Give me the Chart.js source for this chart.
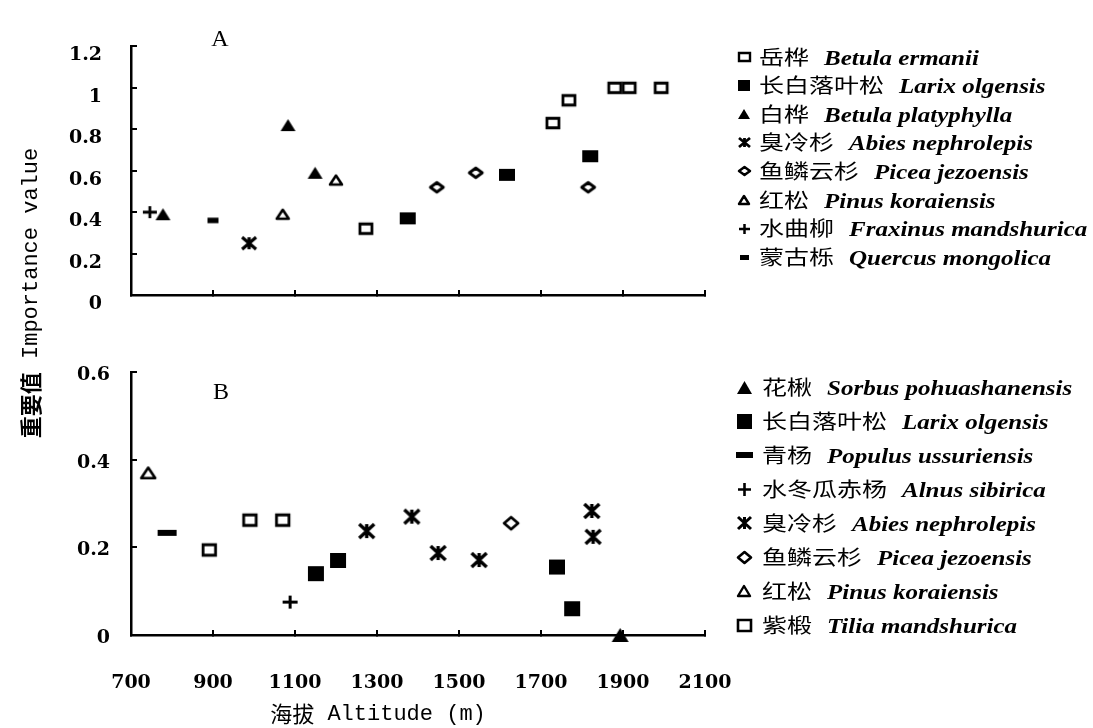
<!DOCTYPE html>
<html><head><meta charset="utf-8">
<script src="https://cdn.jsdelivr.net/npm/chart.js@4.4.0/dist/chart.umd.min.js"></script>
<style>
html,body{margin:0;padding:0;background:#fff;width:1093px;height:728px;overflow:hidden;}
#wrap{position:relative;width:1093px;height:728px;background:#fff;}
canvas.c{position:absolute;left:0;top:0;}
.row{position:absolute;white-space:nowrap;display:flex;align-items:center;height:30px;z-index:5;}
.ico{width:20px;height:30px;display:flex;align-items:center;justify-content:center;}
.txt{display:inline-block;transform-origin:left center;transform:scaleX(1.25);font-size:20px;line-height:1;color:#000;}
.cjk{font-family:"Noto Sans CJK SC";}
.lat{font-family:"Liberation Serif";font-style:italic;font-weight:bold;margin-left:12px;}
</style></head>
<body><div id="wrap">
<canvas id="chartA" class="c" width="800" height="728"></canvas>
<canvas id="chartB" class="c" width="800" height="728"></canvas>
</div>
<script>
// ---------- Axis ranges / tick steps ----------
const altitudeRange = [700, 2100];
const altitudeStep = 200;
const ivRangeA = [0, 1.2];
const ivRangeB = [0, 0.6];
const ivStep = 0.2;

// ---------- Panel A data (altitude m, importance value) ----------
const A_namesCn  = ['岳桦','长白落叶松','白桦','臭冷杉','鱼鳞云杉','红松','水曲柳','蒙古栎'];
const A_namesLat = ['Betula ermanii','Larix olgensis','Betula platyphylla','Abies nephrolepis','Picea jezoensis','Pinus koraiensis','Fraxinus mandshurica','Quercus mongolica'];
const A_betErm_alt = [1273, 1729, 1768, 1880, 1915, 1993];
const A_betErm_iv  = [0.32, 0.83, 0.94, 1.00, 1.00, 1.00];
const A_larOlg_alt = [1375, 1617, 1820];
const A_larOlg_iv  = [0.37, 0.58, 0.67];
const A_betPla_alt = [778, 1083, 1149];
const A_betPla_iv  = [0.39, 0.82, 0.59];
const A_abiNep_alt = [988];
const A_abiNep_iv  = [0.25];
const A_picJez_alt = [1446, 1541, 1815];
const A_picJez_iv  = [0.52, 0.59, 0.52];
const A_pinKor_alt = [1070, 1200];
const A_pinKor_iv  = [0.39, 0.555];
const A_fraMan_alt = [746];
const A_fraMan_iv  = [0.40];
const A_queMon_alt = [900];
const A_queMon_iv  = [0.36];

// ---------- Panel B data ----------
const B_namesCn  = ['花楸','长白落叶松','青杨','水冬瓜赤杨','臭冷杉','鱼鳞云杉','红松','紫椴'];
const B_namesLat = ['Sorbus pohuashanensis','Larix olgensis','Populus ussuriensis','Alnus sibirica','Abies nephrolepis','Picea jezoensis','Pinus koraiensis','Tilia mandshurica'];
const B_sorPoh_alt = [1893];
const B_sorPoh_iv  = [0.0];
const B_larOlg_alt = [1151, 1205, 1739, 1776];
const B_larOlg_iv  = [0.14, 0.17, 0.155, 0.06];
const B_popUss_alt = [788];
const B_popUss_iv  = [0.233];
const B_alnSib_alt = [1088];
const B_alnSib_iv  = [0.075];
const B_abiNep_alt = [1275, 1385, 1449, 1549, 1824, 1827];
const B_abiNep_iv  = [0.237, 0.27, 0.187, 0.171, 0.283, 0.224];
const B_picJez_alt = [1627];
const B_picJez_iv  = [0.255];
const B_pinKor_alt = [742];
const B_pinKor_iv  = [0.37];
const B_tilMan_alt = [891, 990, 1070];
const B_tilMan_iv  = [0.194, 0.262, 0.262];

// ---------- marker images ----------
function marker(kind, w, h, lw) {
  const pad = Math.ceil(lw) + 2;
  const c = document.createElement('canvas');
  c.width = Math.round(w + 2 * pad); c.height = Math.round(h + 2 * pad);
  const g = c.getContext('2d');
  const cx = c.width / 2, cy = c.height / 2, hw = w / 2, hh = h / 2;
  g.lineWidth = lw; g.strokeStyle = '#000'; g.fillStyle = '#000';
  g.lineJoin = 'round'; g.lineCap = 'butt';
  g.beginPath();
  switch (kind) {
    case 'sqOpen':
      g.rect(cx - hw, cy - hh, w, h); g.fillStyle = '#fff'; g.fill(); g.lineJoin = 'miter'; g.stroke(); break;
    case 'sqFill':
      g.rect(cx - hw, cy - hh, w, h); g.fill(); break;
    case 'triFill':
      g.moveTo(cx, cy - hh); g.lineTo(cx + hw, cy + hh); g.lineTo(cx - hw, cy + hh); g.closePath(); g.fill(); break;
    case 'triOpen':
      g.moveTo(cx, cy - hh); g.lineTo(cx + hw, cy + hh); g.lineTo(cx - hw, cy + hh); g.closePath();
      g.fillStyle = '#fff'; g.fill(); g.stroke(); break;
    case 'dia':
      g.moveTo(cx - hw, cy); g.lineTo(cx, cy - hh); g.lineTo(cx + hw, cy); g.lineTo(cx, cy + hh); g.closePath();
      g.fillStyle = '#fff'; g.fill(); g.stroke(); break;
    case 'plus':
      g.moveTo(cx - hw, cy); g.lineTo(cx + hw, cy); g.moveTo(cx, cy - hh); g.lineTo(cx, cy + hh); g.stroke(); break;
    case 'ast':
      g.moveTo(cx - hw, cy - hh); g.lineTo(cx + hw, cy + hh);
      g.moveTo(cx + hw, cy - hh); g.lineTo(cx - hw, cy + hh);
      g.moveTo(cx, cy - hh); g.lineTo(cx, cy + hh); g.stroke(); break;
    case 'dash':
      g.rect(cx - hw, cy - hh, w, h); g.fill(); break;
  }
  return c;
}

// point markers for the plots
const mA = {
  betErm: marker('sqOpen', 12, 9.5, 2.8),
  larOlg: marker('sqFill', 16, 12, 1),
  betPla: marker('triFill', 15, 12, 1),
  abiNep: marker('ast', 14, 12, 3.2),
  picJez: marker('dia', 13, 9.5, 2.8),
  pinKor: marker('triOpen', 12, 9, 2.6),
  fraMan: marker('plus', 14, 12, 2.8),
  queMon: marker('dash', 11, 5.5, 1)
};
const mB = {
  sorPoh: marker('triFill', 17, 14, 1),
  larOlg: marker('sqFill', 16, 15, 1),
  popUss: marker('dash', 19, 6, 1),
  alnSib: marker('plus', 15, 13, 3),
  abiNep: marker('ast', 15, 14, 3.4),
  picJez: marker('dia', 14, 12, 2.8),
  pinKor: marker('triOpen', 14, 10.5, 2.6),
  tilMan: marker('sqOpen', 12.5, 10.5, 2.8)
};
// legend icons
const legA = [marker('sqOpen',11,8,2.4), marker('sqFill',12,11,1), marker('triFill',12,10,1), marker('ast',11,9,2.8),
              marker('dia',11,8,2.5), marker('triOpen',10,8,2.4), marker('plus',11,10,2.5), marker('dash',9,5,1)];
const legB = [marker('triFill',15,13,1), marker('sqFill',15,15,1), marker('dash',17,6,1), marker('plus',13,13,2.6),
              marker('ast',13,12,3), marker('dia',13,11,2.6), marker('triOpen',12,10,2.4), marker('sqOpen',13,11,2.6)];

function pts(xs, ys) { return xs.map((x, i) => ({x: x, y: ys[i]})); }
function ds(label, xs, ys, style) {
  return {label: label, data: pts(xs, ys), pointStyle: style, pointRadius: 8, pointHoverRadius: 8,
          showLine: false, clip: false, borderColor: '#000', backgroundColor: '#000'};
}

// text plugin (panel letters, axis titles)
const figText = {
  id: 'figText',
  afterDraw(chart, args, opts) {
    const ctx = chart.ctx;
    (opts.items || []).forEach(it => {
      ctx.save();
      ctx.translate(it.x, it.y);
      if (it.rot) ctx.rotate(it.rot);
      let total = 0;
      it.parts.forEach(p => { ctx.font = p.font; p.w = ctx.measureText(p.text).width; total += p.w; });
      let x0 = -total / 2;
      ctx.fillStyle = '#000'; ctx.textBaseline = 'middle'; ctx.textAlign = 'left';
      it.parts.forEach(p => { ctx.font = p.font; ctx.fillText(p.text, x0, 0); x0 += p.w; });
      ctx.restore();
    });
  }
};

const tickFont = {family: 'DejaVu Serif', weight: 'bold', size: 19};
const fmtX = v => String(Math.round(v));
const fmtY = v => String(parseFloat(v.toFixed(1)));

function scales(yRange, yLabelOffset, yPad, showX, xHeight) {
  return {
    x: {
      type: 'linear', min: altitudeRange[0], max: altitudeRange[1],
      ticks: {stepSize: altitudeStep, display: showX, font: tickFont, color: '#000', padding: 42, maxRotation: 0, autoSkip: false, callback: fmtX},
      grid: {drawOnChartArea: false, drawTicks: true, tickLength: -5, color: '#000', lineWidth: 2},
      border: {display: true, color: '#000', width: 2.5},
      afterFit: s => { s.height = xHeight; }
    },
    y: {
      type: 'linear', min: yRange[0], max: yRange[1],
      ticks: {stepSize: ivStep, font: tickFont, color: '#000', padding: yPad, labelOffset: yLabelOffset, callback: fmtY},
      grid: {drawOnChartArea: false, drawTicks: true, tickLength: -6, color: '#000', lineWidth: 2},
      border: {display: true, color: '#000', width: 2.5},
      afterFit: s => { s.width = 131; }
    }
  };
}

const commonPlugins = {legend: {display: false}, tooltip: {enabled: false}};

new Chart(document.getElementById('chartA'), {
  type: 'scatter',
  data: {datasets: [
    ds(A_namesCn[0] + ' ' + A_namesLat[0], A_betErm_alt, A_betErm_iv, mA.betErm),
    ds(A_namesCn[1] + ' ' + A_namesLat[1], A_larOlg_alt, A_larOlg_iv, mA.larOlg),
    ds(A_namesCn[2] + ' ' + A_namesLat[2], A_betPla_alt, A_betPla_iv, mA.betPla),
    ds(A_namesCn[3] + ' ' + A_namesLat[3], A_abiNep_alt, A_abiNep_iv, mA.abiNep),
    ds(A_namesCn[4] + ' ' + A_namesLat[4], A_picJez_alt, A_picJez_iv, mA.picJez),
    ds(A_namesCn[5] + ' ' + A_namesLat[5], A_pinKor_alt, A_pinKor_iv, mA.pinKor),
    ds(A_namesCn[6] + ' ' + A_namesLat[6], A_fraMan_alt, A_fraMan_iv, mA.fraMan),
    ds(A_namesCn[7] + ' ' + A_namesLat[7], A_queMon_alt, A_queMon_iv, mA.queMon)
  ]},
  options: {
    responsive: false, animation: false, devicePixelRatio: 1,
    layout: {padding: {top: 16, right: 95, left: 0, bottom: 0}},
    scales: scales(ivRangeA, 9, 35, false, 728 - 295),
    plugins: Object.assign({}, commonPlugins, {figText: {items: [
      {x: 220, y: 40, parts: [{text: 'A', font: '24px "Liberation Serif"'}]}
    ]}})
  },
  plugins: [figText]
});

new Chart(document.getElementById('chartB'), {
  type: 'scatter',
  data: {datasets: [
    ds(B_namesCn[0] + ' ' + B_namesLat[0], B_sorPoh_alt, B_sorPoh_iv, mB.sorPoh),
    ds(B_namesCn[1] + ' ' + B_namesLat[1], B_larOlg_alt, B_larOlg_iv, mB.larOlg),
    ds(B_namesCn[2] + ' ' + B_namesLat[2], B_popUss_alt, B_popUss_iv, mB.popUss),
    ds(B_namesCn[3] + ' ' + B_namesLat[3], B_alnSib_alt, B_alnSib_iv, mB.alnSib),
    ds(B_namesCn[4] + ' ' + B_namesLat[4], B_abiNep_alt, B_abiNep_iv, mB.abiNep),
    ds(B_namesCn[5] + ' ' + B_namesLat[5], B_picJez_alt, B_picJez_iv, mB.picJez),
    ds(B_namesCn[6] + ' ' + B_namesLat[6], B_pinKor_alt, B_pinKor_iv, mB.pinKor),
    ds(B_namesCn[7] + ' ' + B_namesLat[7], B_tilMan_alt, B_tilMan_iv, mB.tilMan)
  ]},
  options: {
    responsive: false, animation: false, devicePixelRatio: 1,
    layout: {padding: {top: 372, right: 95, left: 0, bottom: 0}},
    scales: scales(ivRangeB, 3, 27, true, 728 - 635),
    plugins: Object.assign({}, commonPlugins, {figText: {items: [
      {x: 221, y: 393, parts: [{text: 'B', font: '24px "Liberation Serif"'}]},
      {x: 31, y: 293, rot: -Math.PI / 2, parts: [
        {text: '重要值', font: 'bold 22px "Noto Sans CJK SC"'},
        {text: ' Importance value', font: '22px "Liberation Mono"'}]},
      {x: 378, y: 714, parts: [
        {text: '海拔', font: '22px "Noto Sans CJK SC"'},
        {text: ' Altitude (m)', font: '22px "Liberation Mono"'}]}
    ]}})
  },
  plugins: [figText]
});

// ---------- HTML legends ----------
function buildLegend(namesCn, namesLat, icons, top, step, textGap) {
  const wrap = document.getElementById('wrap');
  namesCn.forEach((cn, i) => {
    const row = document.createElement('div');
    row.className = 'row';
    row.style.left = '734px';
    row.style.top = (top + i * step - 15) + 'px';
    const ib = document.createElement('div'); ib.className = 'ico';
    const ic = document.createElement('canvas');
    ic.width = icons[i].width; ic.height = icons[i].height;
    ic.getContext('2d').drawImage(icons[i], 0, 0);
    ib.appendChild(ic); row.appendChild(ib);
    const t = document.createElement('span'); t.className = 'txt'; t.style.marginLeft = textGap + 'px';
    const s1 = document.createElement('span'); s1.className = 'cjk'; s1.textContent = cn;
    const s2 = document.createElement('span'); s2.className = 'lat'; s2.textContent = namesLat[i];
    t.appendChild(s1); t.appendChild(s2); row.appendChild(t);
    wrap.appendChild(row);
  });
}
buildLegend(A_namesCn, A_namesLat, legA, 57, 28.6, 5);
buildLegend(B_namesCn, B_namesLat, legB, 387, 34, 8);
</script>
</body></html>
